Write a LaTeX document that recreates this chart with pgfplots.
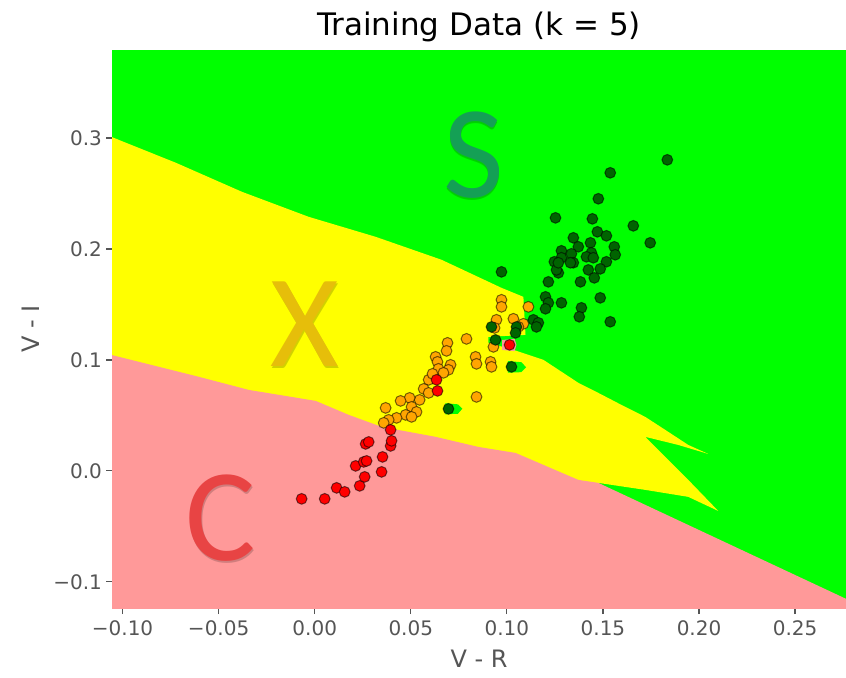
\documentclass[border=0pt]{standalone}
\usepackage{pgfplots}
\pgfplotsset{compat=1.18}
\usepackage{fontspec}
\setmainfont{DejaVu Sans}
\newfontfamily\letterfont{Carlito}

\definecolor{regS}{RGB}{0,255,0}
\definecolor{regX}{RGB}{255,255,0}
\definecolor{regC}{RGB}{255,153,153}
\definecolor{ptS}{RGB}{0,100,0}
\definecolor{ptX}{RGB}{255,165,0}
\definecolor{ptC}{RGB}{255,0,0}
\definecolor{txtgray}{RGB}{85,85,85}
\definecolor{letS}{RGB}{20,160,85}
\definecolor{letX}{RGB}{230,190,10}
\definecolor{letC}{RGB}{232,68,68}

\pgfplotsset{
  pt/.style={only marks, mark=*, mark size=2.7pt,
    mark options={fill=#1, draw=black, draw opacity=0.55, line width=0.5pt}},
  region/.style={fill=#1, draw=none},
}

\begin{document}
\begin{tikzpicture}
\begin{axis}[
  scale only axis, width=367pt, height=279pt,
  xmin=-0.1055, xmax=0.2765, ymin=-0.1236, ymax=0.3794,
  axis line style={draw=none},
  tick align=outside, major tick length=3pt,
  tick style={color=txtgray, line width=0.6pt},
  tick pos=left,
  xtick={-0.10,-0.05,0,0.05,0.10,0.15,0.20,0.25},
  xticklabels={−0.10,−0.05,0.00,0.05,0.10,0.15,0.20,0.25},
  ytick={-0.1,0,0.1,0.2,0.3},
  yticklabels={−0.1,0.0,0.1,0.2,0.3},
  ticklabel style={font=\fontsize{10}{12}\selectfont, text=txtgray},
  yticklabel style={xshift=1.5pt},
  xlabel={V - R}, ylabel={V - I},
  label style={font=\fontsize{12}{14}\selectfont, text=txtgray},
  title={Training Data (k = 5)},
  title style={font=\fontsize{15.5}{18}\selectfont, text=black,
    at={(0.5,1)}, anchor=base, yshift=1.5pt},
]

% decision regions of the k-NN classifier
\addplot[region=regS] coordinates {
  (-0.12,-0.14) (0.29,-0.14) (0.29,0.39) (-0.12,0.39)} -- cycle;

\addplot[region=regX] coordinates {
  (-0.12,0.3110) (-0.1060,0.3012) (-0.0722,0.2777) (-0.0379,0.2516)
  (-0.0031,0.2290)
  (0.0317,0.2110) (0.0660,0.1903) (0.0972,0.1650) (0.1086,0.1569)
  (0.1097,0.1226) (0.0904,0.1208) (0.0904,0.1154) (0.1034,0.1091)
  (0.1190,0.1001) (0.1372,0.0794) (0.1476,0.0703) (0.1596,0.0595)
  (0.1720,0.0487) (0.1824,0.0370) (0.1944,0.0234) (0.2048,0.0153)
  (0.1892,0.0234) (0.1720,0.0307) (0.1824,0.0126) (0.1944,-0.0081)
  (0.2100,-0.0361) (0.1944,-0.0234) (0.1720,-0.0171) (0.1580,-0.0135)
  (0.1476,-0.0108) (0.1476,-0.14) (-0.12,-0.14)} -- cycle;

\addplot[region=regC] coordinates {
  (-0.12,0.1107) (-0.1060,0.1046) (-0.0603,0.0848) (-0.0343,0.0730)
  (0.0005,0.0631)
  (0.0177,0.0505) (0.0348,0.0397) (0.0629,0.0307) (0.0852,0.0216)
  (0.1045,0.0162) (0.1372,-0.0081) (0.1476,-0.0108) (0.2755,-0.1145)
  (0.29,-0.1262) (0.29,-0.14) (-0.12,-0.14)} -- cycle;

% isolated neighbourhoods of single stars
\addplot[region=regS] coordinates {
  (0.0680,0.0610) (0.0745,0.0600) (0.0768,0.0560) (0.0745,0.0515)
  (0.0680,0.0510)} -- cycle;
\addplot[region=regS] coordinates {
  (0.1005,0.0990) (0.1075,0.0980) (0.1100,0.0935) (0.1075,0.0890)
  (0.1005,0.0885)} -- cycle;
\addplot[region=regC] coordinates {
  (0.0975,0.1180) (0.1040,0.1190) (0.1050,0.1136) (0.1040,0.1080)
  (0.0975,0.1090)} -- cycle;

% class labels
\node[inner sep=0, anchor=base, text=black, text opacity=0.18,
  font=\letterfont\fontsize{66}{66}\selectfont] at (axis cs:0.0830,0.2450) {S};
\node[inner sep=0, anchor=base, text=letS,
  font=\letterfont\fontsize{66}{66}\selectfont] at (axis cs:0.0826,0.2462) {S};
\node[inner sep=0, anchor=base, text=black, text opacity=0.18,
  font=\letterfont\fontsize{66}{66}\selectfont] at (axis cs:-0.0048,0.0926) {X};
\node[inner sep=0, anchor=base, text=letX,
  font=\letterfont\fontsize{66}{66}\selectfont] at (axis cs:-0.0052,0.0938) {X};
\node[inner sep=0, anchor=base, text=black, text opacity=0.18,
  font=\letterfont\fontsize{66}{66}\selectfont] at (axis cs:-0.0485,-0.0824) {C};
\node[inner sep=0, anchor=base, text=letC,
  font=\letterfont\fontsize{66}{66}\selectfont] at (axis cs:-0.0489,-0.0812) {C};

% training stars: class X
\addplot[pt=ptX] coordinates {
  (0.0972,0.1542) (0.0972,0.1479) (0.1112,0.1479) (0.0946,0.1362)
  (0.1034,0.1371) (0.1086,0.1326) (0.1060,0.1298) (0.0936,0.1289)
  (0.0930,0.1118) (0.0790,0.1190) (0.0691,0.1154) (0.0686,0.1082)
  (0.0629,0.1028) (0.0639,0.0983) (0.0707,0.0956) (0.0696,0.0911)
  (0.0644,0.0920) (0.0837,0.1028) (0.0842,0.0965) (0.0915,0.0983)
  (0.0920,0.0938) (0.0593,0.0821) (0.0567,0.0739) (0.0593,0.0703)
  (0.0546,0.0640) (0.0494,0.0658) (0.0447,0.0631) (0.0504,0.0577)
  (0.0530,0.0532) (0.0473,0.0505) (0.0504,0.0487) (0.0426,0.0478)
  (0.0385,0.0460) (0.0359,0.0433) (0.0369,0.0568) (0.0842,0.0667)
  (0.0670,0.0884) (0.0613,0.0875)};

% training stars: class C
\addplot[pt=ptC] coordinates {
  (-0.0068,-0.0252) (0.0052,-0.0252) (0.0114,-0.0153) (0.0156,-0.0189)
  (0.0234,-0.0135) (0.0260,-0.0054) (0.0213,0.0045) (0.0255,0.0081)
  (0.0270,0.0090) (0.0348,-0.0009) (0.0353,0.0126) (0.0395,0.0225)
  (0.0400,0.0271) (0.0265,0.0243) (0.0281,0.0261) (0.0395,0.0370)
  (0.0634,0.0821) (0.0639,0.0721) (0.1014,0.1136)};

% training stars: class S
\addplot[pt=ptS] coordinates {
  (0.1835,0.2804) (0.1538,0.2687) (0.1476,0.2453) (0.1445,0.2272)
  (0.1658,0.2209) (0.1471,0.2155) (0.1518,0.2119) (0.1346,0.2101)
  (0.1746,0.2056) (0.1435,0.2056) (0.1372,0.2020) (0.1559,0.2020)
  (0.1284,0.1984) (0.1440,0.1966) (0.1336,0.1957) (0.1564,0.1948)
  (0.1414,0.1930) (0.1450,0.1921) (0.1284,0.1921) (0.1346,0.1876)
  (0.1331,0.1876) (0.1518,0.1885) (0.1424,0.1812) (0.1486,0.1821)
  (0.1455,0.1740) (0.1268,0.1785) (0.1383,0.1704) (0.1486,0.1560)
  (0.1284,0.1515) (0.1388,0.1470) (0.1377,0.1389) (0.1538,0.1344)
  (0.1253,0.2281) (0.1247,0.1885) (0.1258,0.1812) (0.0972,0.1794)
  (0.1216,0.1704) (0.1201,0.1569) (0.1216,0.1515) (0.1201,0.1461)
  (0.1138,0.1362) (0.1164,0.1335) (0.1154,0.1298) (0.1050,0.1298)
  (0.1045,0.1244) (0.0920,0.1298) (0.0941,0.1181) (0.1024,0.0938)
  (0.0696,0.0559) (0.1268,0.1876)};
\end{axis}
\pgfresetboundingbox
\path (-56pt,-34.5pt) rectangle (367pt,304pt);
\end{tikzpicture}
\end{document}
